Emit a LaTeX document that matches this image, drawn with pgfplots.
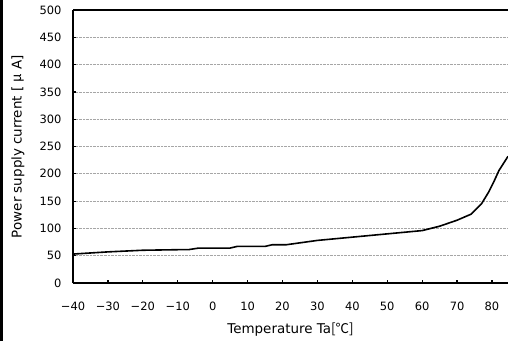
\documentclass[border=0pt]{standalone}
\usepackage{pgfplots}
\pgfplotsset{compat=1.18}
\usepackage{fontspec}
\setmainfont{DejaVu Sans}
\newfontfamily\cjk{Noto Sans CJK JP}
\pgfplotstableread{
x y
-40 53
-30 57
-20 60
-10 61
-7 61
-4 64
5 64
7 67
15 67
17 70
21 70
30 78
40 84
50 90
60 96
65 104
70 115
74 126
77 145
79 166
80.5 185
82 206
84.6 232
}\curdata
\begin{document}
\begin{tikzpicture}[x=1bp,y=1bp]
\useasboundingbox (0,0) rectangle (508,341);
\draw[line width=2bp] (1.5,0) -- (1.5,341);
\begin{axis}[
  at={(73bp,58bp)}, anchor=south west,
  scale only axis, width=435bp, height=273bp,
  xmin=-40, xmax=84.6, ymin=0, ymax=500,
  axis x line*=bottom, axis y line*=left,
  axis line style={line width=2bp, black},
  xtick={-40,-30,...,80},
  xticklabels={−40,−30,−20,−10,0,10,20,30,40,50,60,70,80},
  ytick={0,50,...,500},
  yticklabels={0,50,100,150,200,250,300,350,400,450,500},
  tick align=inside, major tick length=3bp,
  tick style={black, line width=1.2bp},
  ymajorgrids,
  grid style={gray!70, densely dotted, line width=0.7bp},
  tick label style={font=\fontsize{11.5}{13}\selectfont},
  xticklabel style={yshift=-15bp},
  yticklabel style={xshift=-8bp},
  label style={font=\fontsize{13.5}{15}\selectfont},
  xlabel={Temperature Ta{\cjk [℃]}},
  ylabel={Power supply current [ {\cjk μ} A]},
  xlabel style={at={(axis description cs:0.5,-0.172)}, anchor=center},
  ylabel style={at={(axis description cs:-0.1264,0.5)}, anchor=center},
  clip=false,
]
\addplot[black, line width=1.6bp] table[x=x,y=y] {\curdata};
\draw[line width=2bp] (rel axis cs:0,1) -- (rel axis cs:1,1);
\end{axis}
\end{tikzpicture}
\end{document}
